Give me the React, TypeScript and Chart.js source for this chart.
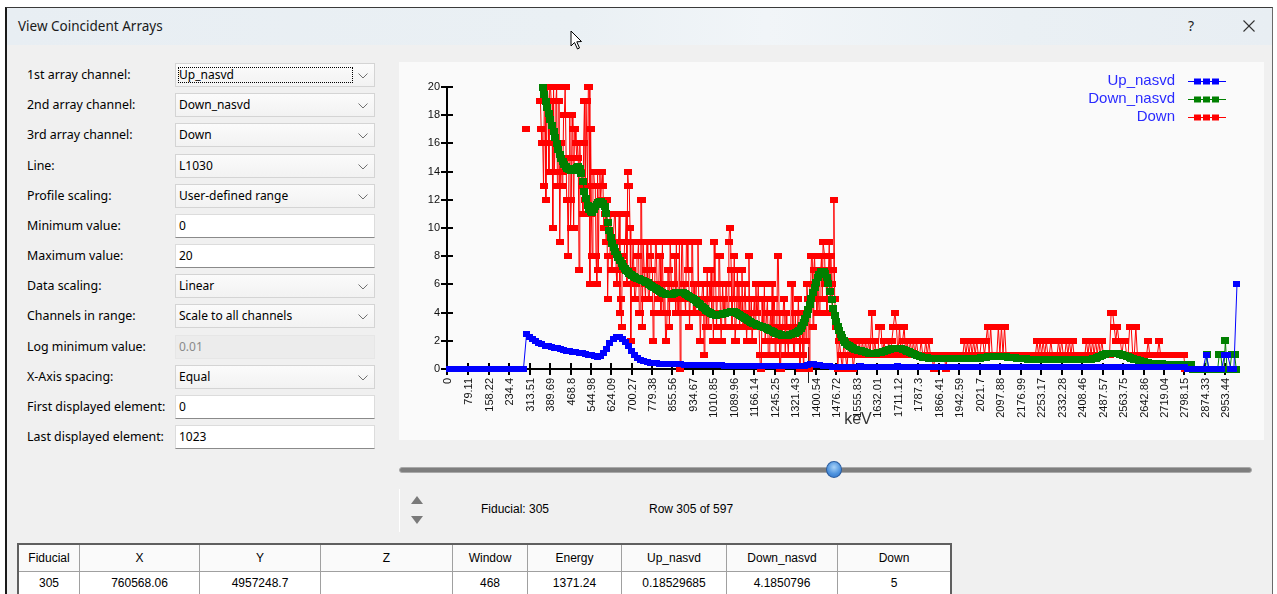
import React, { useEffect, useRef } from "react";
import { Chart, registerables } from "chart.js";

Chart.register(...registerables);

// ---------------- data ----------------
const KEV_PER_CHANNEL = 2.93;

const xTickLabels = [
  "0", "79.11", "158.22", "234.4", "313.51", "389.69", "468.8", "544.98", "624.09", "700.27",
  "779.38", "855.56", "934.67", "1010.85", "1089.96", "1166.14", "1245.25", "1321.43", "1400.54", "1476.72",
  "1555.83", "1632.01", "1711.12", "1787.3", "1866.41", "1942.59", "2021.7", "2097.88", "2176.99", "2253.17",
  "2332.28", "2408.46", "2487.57", "2563.75", "2642.86", "2719.04", "2798.15", "2874.33", "2953.44",
];
const yMin = 0;
const yMax = 20;
const yStep = 2;

const seriesNames = ["Up_nasvd", "Down_nasvd", "Down"];
const seriesColors = ["#0000ff", "#008000", "#ff0000"];

// Up_nasvd: channels 3, 7, 11 ... 1023
const upStartChannel = 3;
const upStep = 4;
const upNasvd = [
  0, 0, 0, 0, 0, 0, 0, 0, 0, 0,
  0, 0, 0, 0, 0, 0, 0, 0, 0, 0,
  0, 0, 0, 0, 0, 2.45, 2.28, 2.12, 1.98, 1.86,
  1.75, 1.66, 1.6, 1.55, 1.5, 1.46, 1.41, 1.36, 1.31, 1.26,
  1.22, 1.2, 1.17, 1.13, 1.08, 1.02, 0.96, 0.91, 0.87, 0.9,
  1.1, 1.45, 1.82, 2.15, 2.3, 2.28, 2.15, 1.92, 1.62, 1.3,
  1.02, 0.8, 0.66, 0.56, 0.5, 0.46, 0.43, 0.4, 0.38, 0.37,
  0.36, 0.35, 0.34, 0.33, 0.33, 0.32, 0.31, 0.3, 0.3, 0.29,
  0.28, 0.28, 0.27, 0.27, 0.26, 0.26, 0.25, 0.25, 0.25, 0.24,
  0.24, 0.24, 0.23, 0.23, 0.23, 0.22, 0.22, 0.22, 0.21, 0.21,
  0.21, 0.2, 0.2, 0.2, 0.2, 0.19, 0.19, 0.19, 0.19, 0.19,
  0.19, 0.19, 0.19, 0.19, 0.19, 0.19, 0.25, 0.33, 0.36, 0.3,
  0.3, 0.22, 0.19, 0.18, 0.17, 0.17, 0.17, 0.17, 0.17, 0.17,
  0.17, 0.17, 0.17, 0.18, 0.17, 0.17, 0.17, 0.17, 0.17, 0.17,
  0.17, 0.17, 0.17, 0.17, 0.17, 0.18, 0.17, 0.17, 0.17, 0.17,
  0.17, 0.17, 0.17, 0.17, 0.17, 0.17, 0.17, 0.17, 0.17, 0.17,
  0.17, 0.17, 0.17, 0.17, 0.17, 0.17, 0.17, 0.17, 0.17, 0.17,
  0.17, 0.17, 0.17, 0.17, 0.17, 0.16, 0.16, 0.16, 0.16, 0.16,
  0.16, 0.16, 0.16, 0.16, 0.16, 0.16, 0.16, 0.16, 0.16, 0.16,
  0.16, 0.16, 0.16, 0.16, 0.16, 0.16, 0.16, 0.16, 0.16, 0.16,
  0.16, 0.16, 0.16, 0.16, 0.16, 0.16, 0.16, 0.16, 0.16, 0.16,
  0.16, 0.16, 0.16, 0.16, 0.16, 0.16, 0.16, 0.16, 0.16, 0.16,
  0.16, 0.16, 0.16, 0.16, 0.16, 0.16, 0.16, 0.16, 0.16, 0.16,
  0.16, 0.16, 0.16, 0.16, 0.16, 0.16, 0.16, 0.16, 0.16, 0,
  0, 0, 0, 0, 0, 1, 0, 0, 0, 0,
  0, 1, 1, 0, 0, 6,
];

// Down_nasvd: channels 124, 126 ... 1022
const downNasvdStartChannel = 124;
const downNasvdStep = 2;
const downNasvd = [
  19.95, 19.5, 19.0, 18.55, 18.1, 17.7, 17.3, 16.85, 16.4, 16.0,
  15.6, 15.2, 14.9, 14.7, 14.5, 14.35, 14.2, 14.15, 14.1, 14.1,
  14.1, 14.2, 14.3, 14.35, 14.2, 13.9, 13.3, 12.6, 12.1, 11.6,
  11.3, 11.15, 11.1, 11.3, 11.5, 11.7, 11.8, 11.85, 11.9, 11.75,
  11.5, 11.0, 10.4, 9.8, 9.3, 8.9, 8.6, 8.35, 8.1, 7.9,
  7.7, 7.5, 7.3, 7.15, 7.0, 6.9, 6.8, 6.7, 6.6, 6.55,
  6.5, 6.45, 6.4, 6.35, 6.3, 6.25, 6.2, 6.15, 6.1, 6.0,
  5.95, 5.88, 5.8, 5.72, 5.65, 5.58, 5.5, 5.43, 5.37, 5.33,
  5.3, 5.27, 5.25, 5.27, 5.3, 5.35, 5.4, 5.43, 5.45, 5.46,
  5.45, 5.4, 5.35, 5.28, 5.2, 5.12, 5.05, 4.97, 4.9, 4.83,
  4.75, 4.65, 4.55, 4.45, 4.35, 4.26, 4.18, 4.09, 4.0, 3.94,
  3.88, 3.85, 3.82, 3.83, 3.85, 3.88, 3.9, 3.93, 3.95, 3.98,
  4.0, 4.03, 4.05, 4.06, 4.05, 4.0, 3.95, 3.88, 3.8, 3.73,
  3.65, 3.58, 3.5, 3.44, 3.38, 3.31, 3.25, 3.2, 3.15, 3.11,
  3.08, 3.04, 3.0, 2.96, 2.92, 2.86, 2.8, 2.75, 2.7, 2.65,
  2.6, 2.55, 2.5, 2.46, 2.42, 2.4, 2.38, 2.37, 2.38, 2.4,
  2.42, 2.46, 2.5, 2.55, 2.6, 2.67, 2.75, 2.9, 3.1, 3.33,
  3.6, 3.88, 4.19, 4.6, 5.0, 5.4, 5.8, 6.15, 6.5, 6.72,
  6.9, 6.95, 6.9, 6.75, 6.5, 6.05, 5.5, 4.9, 4.3, 3.82,
  3.4, 3.02, 2.7, 2.42, 2.2, 2.03, 1.9, 1.77, 1.65, 1.57,
  1.5, 1.45, 1.4, 1.36, 1.33, 1.3, 1.28, 1.25, 1.22, 1.18,
  1.15, 1.12, 1.1, 1.1, 1.1, 1.11, 1.12, 1.14, 1.16, 1.19,
  1.22, 1.26, 1.3, 1.34, 1.38, 1.41, 1.44, 1.46, 1.47, 1.47,
  1.47, 1.45, 1.43, 1.4, 1.36, 1.32, 1.27, 1.22, 1.18, 1.13,
  1.08, 1.03, 0.98, 0.94, 0.9, 0.87, 0.84, 0.82, 0.8, 0.79,
  0.78, 0.77, 0.76, 0.75, 0.75, 0.74, 0.74, 0.73, 0.73, 0.73,
  0.73, 0.72, 0.72, 0.72, 0.72, 0.71, 0.71, 0.71, 0.71, 0.71,
  0.71, 0.71, 0.71, 0.72, 0.72, 0.72, 0.72, 0.72, 0.73, 0.73,
  0.74, 0.75, 0.77, 0.78, 0.8, 0.82, 0.83, 0.85, 0.86, 0.87,
  0.87, 0.88, 0.88, 0.88, 0.88, 0.88, 0.87, 0.87, 0.87, 0.86,
  0.86, 0.85, 0.84, 0.83, 0.82, 0.81, 0.8, 0.78, 0.77, 0.75,
  0.74, 0.73, 0.72, 0.71, 0.7, 0.69, 0.68, 0.68, 0.67, 0.67,
  0.66, 0.66, 0.65, 0.65, 0.65, 0.64, 0.64, 0.64, 0.64, 0.64,
  0.64, 0.64, 0.64, 0.64, 0.64, 0.64, 0.64, 0.64, 0.64, 0.64,
  0.64, 0.64, 0.64, 0.64, 0.65, 0.65, 0.65, 0.66, 0.66, 0.67,
  0.67, 0.68, 0.68, 0.69, 0.7, 0.7, 0.72, 0.75, 0.78, 0.82,
  0.87, 0.92, 0.97, 1.02, 1.06, 1.09, 1.11, 1.12, 1.12, 1.12,
  1.12, 1.11, 1.1, 1.08, 1.05, 1.02, 0.98, 0.94, 0.9, 0.86,
  0.82, 0.78, 0.74, 0.7, 0.67, 0.64, 0.61, 0.58, 0.55, 0.52,
  0.49, 0.46, 0.44, 0.42, 0.4, 0.39, 0.38, 0.37, 0.37, 0.36,
  0.36, 0.36, 0.35, 0.35, 0.35, 0.35, 0.35, 0.35, 0.35, 0.35,
  0.35, 0.35, 0.35, 0.35, 0.35, 0.35, 0.35, 0.35, 0.35, 0.35,
  0.35, 0, 0, 0, 0, 0, 0, 0, 0, 0,
  1, 0, 0, 0, 0, 0, 0, 0, 1, 1,
  0, 0, 2, 0, 0, 0, 1, 1, 1, 0,
];

// Down, high-count part: every channel 102 ... 501 (null = above the displayed range)
const downHighStartChannel = 102;
const downHighStep = 1;
const downHigh = [
  17, null, null, null, null, null, null, null, null, null, null, null, null, null, null, null, null, null, 19, 19,
  17, 16, 16, 13, 19, 19, 12, 16, 20, 19, 14, 20, 20, 19, 19, 10, 20, 14, 16, 19,
  20, 13, 13, 19, 9, 14, 16, 13, 14, 18, 18, 20, 20, 12, 12, 8, 15, 18, 10, 12,
  18, 17, 10, 17, 17, 16, 15, 16, 15, 7, 16, 14, 14, 13, 11, 16, 19, 12, 19, 19,
  13, 20, 20, 6, 17, 11, 8, 14, 14, 13, 13, 8, 6, 14, 7, 13, 14, 12, 13, 14,
  13, 10, 10, 11, 9, 12, 5, 8, 8, 11, 11, 7, 7, 9, 9, 11, 11, 7, 6, 9,
  9, 11, 4, 5, 3, 8, 8, 7, 9, 9, 11, 6, 14, 13, 13, 10, 2, 7, 7, 9,
  9, 5, 5, 6, 8, 8, 9, 4, 4, 12, 12, 3, 9, 9, 6, 5, 7, 9, 6, 5,
  5, 8, 9, 7, 7, 2, 4, 6, 9, 9, 6, 5, 5, 8, 8, 4, 6, 9, 4, 6,
  6, 2, 2, 4, 7, 7, 3, 9, 9, 5, 5, 6, 6, 8, 4, 9, 4, 5, 4, 9,
  0, 5, 9, 9, 5, 6, 6, 4, 9, 9, 7, 7, 3, 5, 5, 9, 9, 4, 6, 4,
  4, 6, 6, 9, 5, 5, 2, 4, 4, 6, 6, 1, 5, 5, 3, 7, 3, 4, 6, 5,
  7, 4, 4, 2, 9, 6, 6, 3, 5, 5, 8, 8, 4, 2, 2, 6, 4, 5, 3, 6,
  6, 4, 4, 9, 10, 10, 7, 3, 5, 5, 8, 2, 2, 4, 7, 4, 6, 3, 5, 4,
  7, 3, 3, 5, 6, 6, 2, 4, 4, 8, 3, 3, 5, 2, 2, 4, 5, 3, 6, 4,
  4, 6, 6, 1, 0, 0, 5, 3, 3, 6, 2, 2, 4, 5, 1, 1, 3, 4, 2, 6,
  3, 5, 5, 1, 2, 2, 8, 8, 4, 0, 0, 3, 2, 2, 5, 5, 1, 4, 3, 2,
  1, 3, 3, 2, 6, 6, 3, 1, 1, 4, 2, 2, 3, 5, 3, 0, 2, 4, 3, 1,
  0, 4, 4, 2, 6, 5, 5, 0, 6, 6, 8, 8, 3, 7, 8, 6, 6, 4, 7, 5,
  4, 7, 7, 8, 5, 9, 9, 8, 6, 6, 4, 7, 7, 9, 5, 8, 6, 4, 7, 12,
];

// Down, low-count part: channels 502, 504 ... 956
const downLowStartChannel = 502;
const downLowStep = 2;
const downLow = [
  5, 3, 0, 2, 1, 0, 2, 1, 0, 2,
  1, 2, 0, 1, 2, 1, 2, 1, 2, 1,
  2, 1, 2, 1, 4, 1, 2, 1, 1, 3,
  3, 1, 2, 1, 1, 2, 1, 2, 3, 4,
  3, 1, 3, 1, 2, 3, 1, 2, 1, 2,
  1, 2, 1, 2, 1, 1, 2, 1, 1, 2,
  1, 2, 1, 1, 0, 1, 1, 1, 1, 1,
  1, 1, 0, 1, 1, 1, 1, 1, 1, 1,
  1, 1, 1, 1, 2, 1, 2, 1, 2, 1,
  2, 1, 2, 1, 1, 2, 2, 1, 2, 3,
  1, 3, 1, 1, 1, 1, 3, 1, 3, 1,
  3, 1, 1, 1, 1, 1, 1, 1, 1, 1,
  1, 1, 1, 1, 1, 1, 1, 1, 1, 1,
  1, 2, 1, 2, 1, 2, 1, 2, 1, 1,
  2, 1, 1, 1, 1, 2, 1, 2, 1, 1,
  2, 1, 2, 1, 2, 1, 1, 1, 1, 1,
  1, 1, 1, 2, 1, 2, 1, 2, 1, 2,
  1, 2, 1, 2, 1, 1, 1, 1, 1, 4,
  4, 3, 2, 3, 2, 2, 1, 2, 2, 1,
  1, 3, 3, 1, 1, 3, 1, 1, 1, 1,
  1, 1, 1, 2, 1, 1, 1, 1, 1, 1,
  2, 1, 1, 1, 1, 1, 1, 1, 1, 1,
  1, 1, 1, 1, 1, 1, 1, 0,
];

const cursorEnergy = 1371.24;
const axisTitle = "keV";

// form / table content
const formLabels = [
  "1st array channel:", "2nd array channel:", "3rd array channel:", "Line:", "Profile scaling:",
  "Minimum value:", "Maximum value:", "Data scaling:", "Channels in range:", "Log minimum value:",
  "X-Axis spacing:", "First displayed element:", "Last displayed element:",
];
const formValues = [
  "Up_nasvd", "Down_nasvd", "Down", "L1030", "User-defined range",
  "0", "20", "Linear", "Scale to all channels", "0.01",
  "Equal", "0", "1023",
];
const formKinds = [
  "combo", "combo", "combo", "combo", "combo",
  "text", "text", "combo", "combo", "disabled",
  "combo", "text", "text",
];
const tableHeaders = ["Fiducial", "X", "Y", "Z", "Window", "Energy", "Up_nasvd", "Down_nasvd", "Down"];
const tableRow = ["305", "760568.06", "4957248.7", "", "468", "1371.24", "0.18529685", "4.1850796", "5"];
const fiducialText = "Fiducial: 305";
const rowText = "Row 305 of 597";
const dialogTitle = "View Coincident Arrays";

// ---------------- helpers ----------------
const toPoints = (vals: (number | null)[], start: number, step: number) =>
  vals.map((v, i) => ({ x: (start + i * step) * KEV_PER_CHANNEL, y: v }));

const makeMarker = (color: string, w: number, h: number) => {
  const c = document.createElement("canvas");
  c.width = w;
  c.height = h;
  const g = c.getContext("2d")!;
  g.fillStyle = color;
  g.fillRect(0, 0, w, h);
  return c;
};

const CANVAS_FONT = "'Liberation Sans', Arial, sans-serif";
const UI_FONT = "'Noto Sans', 'Segoe UI', sans-serif";
const TABLE_FONT = "'Liberation Sans', Arial, sans-serif";

function SpectrumChart() {
  const ref = useRef<HTMLCanvasElement | null>(null);
  useEffect(() => {
    const canvas = ref.current!;
    const markerSizes = [
      [7, 6],
      [8, 7],
      [8, 6],
    ];
    const markers = seriesColors.map((c, i) => makeMarker(c, markerSizes[i][0], markerSizes[i][1]));

    const overlay = {
      id: "overlay",
      beforeDatasetsDraw(chart: any) {
        const { ctx, chartArea, scales } = chart;
        const xs = scales.x;
        const ys = scales.y;
        ctx.save();
        ctx.strokeStyle = "#000";
        ctx.lineWidth = 2;
        ctx.beginPath();
        for (const t of ys.ticks) {
          const py = Math.round(ys.getPixelForValue(t.value));
          ctx.moveTo(chartArea.left - 6, py);
          ctx.lineTo(chartArea.left + 6, py);
        }
        for (const t of xs.ticks) {
          const px = Math.round(xs.getPixelForValue(t.value));
          ctx.moveTo(px, chartArea.bottom - 6);
          ctx.lineTo(px, chartArea.bottom + 6);
        }
        ctx.stroke();
        // x tick labels, rotated
        ctx.fillStyle = "#111";
        ctx.font = `11px ${CANVAS_FONT}`;
        ctx.textAlign = "right";
        ctx.textBaseline = "middle";
        xs.ticks.forEach((t: any, i: number) => {
          const px = Math.round(xs.getPixelForValue(t.value));
          ctx.save();
          ctx.translate(px + 0.5, chartArea.bottom + 9);
          ctx.rotate(-Math.PI / 2);
          ctx.fillText(xTickLabels[i], 0, 0);
          ctx.restore();
        });
        // cursor marker
        const cx = Math.round(xs.getPixelForValue(cursorEnergy)) + 0.5;
        const y0 = Math.round(ys.getPixelForValue(0));
        ctx.strokeStyle = "#222";
        ctx.lineWidth = 1;
        ctx.beginPath();
        ctx.moveTo(cx, y0 - 22);
        ctx.lineTo(cx, y0 + 14);
        ctx.moveTo(cx - 18, y0 - 4.5);
        ctx.lineTo(cx - 5, y0 - 4.5);
        ctx.moveTo(cx + 5, y0 - 4.5);
        ctx.lineTo(cx + 19, y0 - 4.5);
        ctx.stroke();
        ctx.restore();
      },
      afterDatasetsDraw(chart: any) {
        const { ctx, chartArea } = chart;
        ctx.save();
        // legend
        ctx.font = `15px ${CANVAS_FONT}`;
        ctx.textAlign = "right";
        ctx.textBaseline = "middle";
        const textRight = chart.width - 89;
        seriesNames.forEach((name, i) => {
          const yy = 19 + i * 18;
          ctx.fillStyle = "#2a2aff";
          ctx.fillText(name, textRight, yy);
          ctx.strokeStyle = seriesColors[i];
          ctx.lineWidth = 1;
          ctx.beginPath();
          ctx.moveTo(textRight + 13, yy + 0.5);
          ctx.lineTo(textRight + 51, yy + 0.5);
          ctx.stroke();
          ctx.fillStyle = seriesColors[i];
          for (let k = 0; k < 3; k++) {
            ctx.fillRect(textRight + 19 + k * 9, yy - 2.5, 7, 6);
          }
        });
        // axis title
        ctx.fillStyle = "#333";
        ctx.font = `16px ${CANVAS_FONT}`;
        ctx.textAlign = "center";
        ctx.fillText(axisTitle, chartArea.left + 411, chartArea.bottom + 51);
        ctx.restore();
      },
    };

    const series = [
      toPoints(upNasvd, upStartChannel, upStep),
      toPoints(downNasvd, downNasvdStartChannel, downNasvdStep),
      toPoints(downHigh, downHighStartChannel, downHighStep).concat(
        toPoints(downLow, downLowStartChannel, downLowStep)
      ),
    ];

    const chart = new Chart(canvas, {
      type: "line",
      data: {
        datasets: series.map((data, i) => ({
          label: seriesNames[i],
          data,
          borderColor: seriesColors[i],
          backgroundColor: seriesColors[i],
          borderWidth: 1,
          pointStyle: markers[i] as any,
          pointRadius: 3,
          pointHoverRadius: 3,
          tension: 0,
          spanGaps: false,
          clip: false as any,
          fill: false,
        })),
      },
      options: {
        animation: false,
        responsive: false,
        devicePixelRatio: 1,
        events: [],
        layout: { padding: { top: 25, right: 25, left: 0, bottom: 0 } },
        plugins: { legend: { display: false }, tooltip: { enabled: false } },
        scales: {
          x: {
            type: "linear",
            min: 0,
            max: 3005,
            afterBuildTicks: (s: any) => {
              s.ticks = xTickLabels.map((l) => ({ value: Number(l) }));
            },
            afterFit: (s: any) => {
              s.height = 71;
            },
            grid: { display: false, drawTicks: false },
            border: { display: true, color: "#000", width: 2 },
            ticks: { display: false, autoSkip: false },
          },
          y: {
            type: "linear",
            min: yMin,
            max: yMax,
            afterFit: (s: any) => {
              s.width = 48;
            },
            grid: { display: false, drawTicks: false },
            border: { display: true, color: "#000", width: 2 },
            ticks: {
              stepSize: yStep,
              padding: 7,
              color: "#111",
              font: { family: CANVAS_FONT, size: 11 },
            },
          },
        },
      } as any,
      plugins: [overlay],
    });
    return () => chart.destroy();
  }, []);
  return <canvas ref={ref} width={865} height={378} style={{ display: "block", width: 865, height: 378 }} />;
}

function Chevron() {
  return (
    <svg width={10} height={6} style={{ position: "absolute", right: 6, top: 9 }}>
      <polyline points="0.5,0.5 5,5 9.5,0.5" fill="none" stroke="#707070" strokeWidth={1} />
    </svg>
  );
}

function FormRow({ i }: { i: number }) {
  const top = 63 + Math.round(i * 30.17);
  const kind = formKinds[i];
  const boxBase: React.CSSProperties = {
    position: "absolute",
    left: 175,
    top,
    width: 200,
    height: 24,
    boxSizing: "border-box",
    fontFamily: UI_FONT,
    fontSize: 12,
  };
  let box: React.CSSProperties;
  if (kind === "combo") {
    box = { ...boxBase, border: "1px solid #d4d4d4", background: "linear-gradient(#fbfbfb,#f2f2f2)", color: "#000" };
  } else if (kind === "text") {
    box = { ...boxBase, border: "1px solid #dcdcdc", borderBottom: "1px solid #8a8a8a", background: "#fff", color: "#000" };
  } else {
    box = { ...boxBase, border: "1px solid #e6e6e6", background: "#ececec", color: "#8a8a8a" };
  }
  return (
    <>
      <div
        style={{
          position: "absolute",
          left: 27,
          top,
          height: 24,
          lineHeight: "24px",
          fontFamily: UI_FONT,
          fontSize: 12.4,
          color: "#000",
          whiteSpace: "nowrap",
        }}
      >
        {formLabels[i]}
      </div>
      <div style={box}>
        <span style={{ position: "absolute", left: 3, top: 0, lineHeight: "22px", whiteSpace: "nowrap" }}>
          {formValues[i]}
        </span>
        {kind === "combo" && <Chevron />}
        {i === 0 && (
          <div
            style={{
              position: "absolute",
              left: 2,
              top: 3,
              width: 175,
              height: 16,
              border: "1px dotted #000",
              boxSizing: "border-box",
            }}
          />
        )}
      </div>
    </>
  );
}

export default function App() {
  const colWidths = [61, 120, 121, 132, 75, 94, 105, 111, 112];
  return (
    <div
      style={{
        position: "absolute",
        left: 0,
        top: 0,
        width: 1277,
        height: 594,
        overflow: "hidden",
        background: "#fff",
      }}
    >
      {/* dialog frame */}
      <div
        style={{
          position: "absolute",
          left: 5,
          top: 7,
          width: 1268,
          height: 600,
          boxSizing: "border-box",
          borderLeft: "2px solid #1a1a1a",
          borderTop: "1px solid #3a3a3a",
          borderRight: "1px solid #6a6a6a",
          background: "#f0f0f0",
        }}
      >
        <div
          style={{
            position: "absolute",
            left: 0,
            top: 0,
            right: 0,
            height: 37,
            background: "linear-gradient(90deg,#e8eef3 0%,#eaf0f4 45%,#f1f5f8 60%,#eaf0f4 80%,#e8eef3 100%)",
          }}
        />
      </div>
      <div
        style={{
          position: "absolute",
          left: 18,
          top: 16,
          lineHeight: "20px",
          fontFamily: UI_FONT,
          fontSize: 13.5,
          color: "#1a1a1a",
        }}
      >
        {dialogTitle}
      </div>
      <div
        style={{
          position: "absolute",
          left: 1188,
          top: 16,
          lineHeight: "20px",
          fontFamily: UI_FONT,
          fontSize: 14,
          color: "#222",
        }}
      >
        ?
      </div>
      <svg width={12} height={12} style={{ position: "absolute", left: 1243, top: 20 }}>
        <line x1={0.5} y1={0.5} x2={11.5} y2={11.5} stroke="#333" strokeWidth={1.1} />
        <line x1={11.5} y1={0.5} x2={0.5} y2={11.5} stroke="#333" strokeWidth={1.1} />
      </svg>
      {/* mouse pointer */}
      <svg width={14} height={22} style={{ position: "absolute", left: 570, top: 30 }}>
        <path d="M1,1 L1,16 L4.5,12.5 L7.5,19 L9.5,18 L6.8,11.8 L11.5,11.5 Z" fill="#fff" stroke="#000" strokeWidth={1} />
      </svg>

      {/* form */}
      {formLabels.map((_, i) => (
        <FormRow key={i} i={i} />
      ))}

      {/* chart panel */}
      <div style={{ position: "absolute", left: 399, top: 62, width: 865, height: 378, background: "#fafafa" }}>
        <SpectrumChart />
      </div>

      {/* slider */}
      <div
        style={{
          position: "absolute",
          left: 399,
          top: 467,
          width: 853,
          height: 6,
          boxSizing: "border-box",
          borderRadius: 3,
          background: "#7e7e7e",
          border: "1px solid #a9a9a9",
        }}
      />
      <div
        style={{
          position: "absolute",
          left: 826,
          top: 461,
          width: 16,
          height: 17,
          boxSizing: "border-box",
          borderRadius: "50%",
          border: "1px solid #2b5c9e",
          background: "radial-gradient(circle at 50% 35%, #a9d2f7 0%, #4f94df 55%, #2d6fc4 100%)",
        }}
      />

      {/* spinner and status */}
      <div style={{ position: "absolute", left: 399, top: 489, width: 1, height: 43, background: "#ffffff" }} />
      <svg width={14} height={40} style={{ position: "absolute", left: 410, top: 494 }}>
        <polygon points="1,10 7,2 13,10" fill="#7a7a7a" />
        <polygon points="1,22 13,22 7,30" fill="#7a7a7a" />
      </svg>
      <div
        style={{
          position: "absolute",
          left: 481,
          top: 500,
          lineHeight: "18px",
          fontFamily: TABLE_FONT,
          fontSize: 12,
          color: "#000",
        }}
      >
        {fiducialText}
      </div>
      <div
        style={{
          position: "absolute",
          left: 649,
          top: 500,
          lineHeight: "18px",
          fontFamily: TABLE_FONT,
          fontSize: 12,
          color: "#000",
        }}
      >
        {rowText}
      </div>

      {/* table */}
      <div
        style={{
          position: "absolute",
          left: 17,
          top: 543,
          width: 935,
          height: 70,
          boxSizing: "border-box",
          border: "2px solid #5f5f5f",
          background: "#fff",
          fontFamily: TABLE_FONT,
          fontSize: 12,
          color: "#000",
        }}
      >
        {[tableHeaders, tableRow].map((row, r) => (
          <div
            key={r}
            style={{
              display: "flex",
              height: r === 0 ? 27 : 24,
              boxSizing: "border-box",
              borderBottom: "1px solid #a0a0a0",
              background: r === 0 ? "#fafafa" : "#fff",
            }}
          >
            {row.map((cell, c) => (
              <div
                key={c}
                style={{
                  width: colWidths[c],
                  flex: "none",
                  boxSizing: "border-box",
                  borderRight: c < row.length - 1 ? "1px solid #a0a0a0" : "none",
                  textAlign: "center",
                  lineHeight: r === 0 ? "26px" : "23px",
                  whiteSpace: "nowrap",
                }}
              >
                {cell}
              </div>
            ))}
          </div>
        ))}
      </div>
    </div>
  );
}
